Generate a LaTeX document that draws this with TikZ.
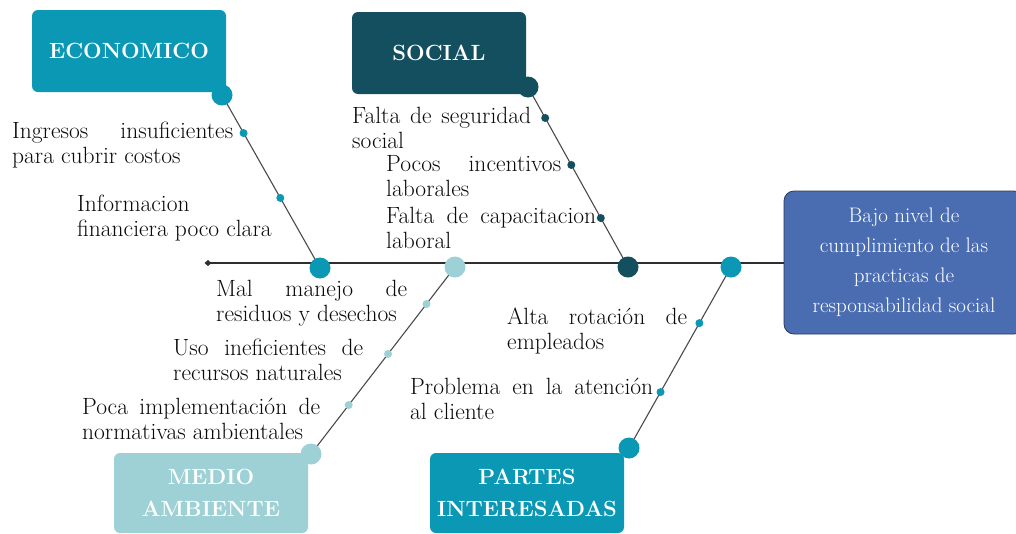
\documentclass[tikz,border=0pt]{standalone}
\usetikzlibrary{calc}
\definecolor{ecoC}{HTML}{0B98B5}
\definecolor{socC}{HTML}{134F5E}
\definecolor{medC}{HTML}{9DD1D5}
\definecolor{resC}{HTML}{4A6CB1}
\definecolor{resB}{HTML}{2B3A5C}
\definecolor{txtC}{HTML}{0A0A0A}
\definecolor{boneC}{HTML}{4A4A4A}
\definecolor{spineC}{HTML}{2E2E2E}
\begin{document}
\begin{tikzpicture}[x=1pt,y=-1pt,
  catbox/.style={fill=#1, rounded corners=6pt, text=white, inner sep=0pt,
    font=\fontsize{22}{32}\selectfont\bfseries, align=center},
  bigdot/.style={circle, fill=#1, minimum size=21pt, inner sep=0pt},
  smalldot/.style={circle, fill=#1, minimum size=8pt, inner sep=0pt},
  lbl/.style={text=txtC, font=\fontsize{23.5}{25}\selectfont, align=left, inner sep=0pt, anchor=west},
  bone/.style={draw=boneC, line width=1.1pt},
  spine/.style={draw=spineC, line width=2.2pt}]
\useasboundingbox (0,0) rectangle (1016,533);

% result box
\node[fill=resC, draw=resB, line width=0.8pt, rounded corners=10pt, minimum width=240pt, minimum height=143pt,
  text=white, font=\fontsize{21}{30}\selectfont, align=center, inner sep=0pt] (res) at (904,262.5)
  {Bajo nivel de\\cumplimiento de las\\practicas de\\responsabilidad social};

% spine
\coordinate (tail) at (208,263);
\draw[spine] (tail) -- (res.west |- tail);
\fill[spineC] (tail) ++(-3.5,0) -- ++(3.5,-3) -- ++(3.5,3) -- ++(-3.5,3) -- cycle;

% spine circles (positions)
\coordinate (s1c) at (320,268);
\coordinate (s2c) at (455,267);
\coordinate (s3c) at (628,267);
\coordinate (s4c) at (731,267);
% category corner circles
\coordinate (ecc) at (222,95);
\coordinate (scc) at (528,87);
\coordinate (mcc) at (311,454);
\coordinate (pcc) at (629,448);

% bones
\draw[bone] (ecc) -- (s1c);
\draw[bone] (scc) -- (s3c);
\draw[bone] (mcc) -- (s2c);
\draw[bone] (pcc) -- (s4c);

% category boxes
\node[catbox=ecoC, minimum width=194pt, minimum height=82pt] (eco) at (129,51) {ECONOMICO};
\node[catbox=socC, minimum width=174pt, minimum height=82pt] (soc) at (439,53) {SOCIAL};
\node[catbox=medC, minimum width=194pt, minimum height=80pt] (med) at (211,493) {MEDIO\\AMBIENTE};
\node[catbox=ecoC, minimum width=194pt, minimum height=80pt] (par) at (527,493) {PARTES\\INTERESADAS};

% big dots
\node[bigdot=ecoC] (ed) at (ecc) {};
\node[bigdot=socC] (sd) at (scc) {};
\node[bigdot=medC] (md) at (mcc) {};
\node[bigdot=ecoC] (pd) at (pcc) {};
\node[bigdot=ecoC] (s1) at (s1c) {};
\node[bigdot=medC] (s2) at (s2c) {};
\node[bigdot=socC] (s3) at (s3c) {};
\node[bigdot=ecoC] (s4) at (s4c) {};

% small dots
\node[smalldot=ecoC] (e1) at ($(ecc)!0.22!(s1c)$) {};
\node[smalldot=ecoC] (e2) at ($(ecc)!0.595!(s1c)$) {};
\node[smalldot=socC] (o1) at ($(scc)!0.172!(s3c)$) {};
\node[smalldot=socC] (o2) at ($(scc)!0.433!(s3c)$) {};
\node[smalldot=socC] (o3) at ($(scc)!0.728!(s3c)$) {};
\node[smalldot=medC] (m1) at ($(mcc)!0.262!(s2c)$) {};
\node[smalldot=medC] (m2) at ($(mcc)!0.535!(s2c)$) {};
\node[smalldot=medC] (m3) at ($(mcc)!0.802!(s2c)$) {};
\node[smalldot=ecoC] (p1) at ($(pcc)!0.309!(s4c)$) {};
\node[smalldot=ecoC] (p2) at ($(pcc)!0.69!(s4c)$) {};

% labels
\node[lbl] (le1) at (12,145) {\makebox[221pt][s]{Ingresos insuficientes}\\para cubrir costos};
\node[lbl] (le2) at (77,218) {Informacion\\financiera poco clara};
\node[lbl] (lo1) at (352,128) {\makebox[179pt][s]{Falta de seguridad}\\social};
\node[lbl] (lo2) at (386,176) {\makebox[175pt][s]{Pocos incentivos}\\laborales};
\node[lbl] (lo3) at (386,228) {\makebox[210pt][s]{Falta de capacitacion}\\laboral};
\node[lbl] (lm3) at (216,303) {\makebox[191pt][s]{Mal manejo de}\\residuos y desechos};
\node[lbl] (lm2) at (173,360) {\makebox[190pt][s]{Uso ineficientes de}\\recursos naturales};
\node[lbl] (lm1) at (82,419) {\makebox[238pt][s]{Poca implementación de}\\normativas ambientales};
\node[lbl] (lp2) at (507,331) {\makebox[180pt][s]{Alta rotación de}\\empleados};
\node[lbl] (lp1) at (410,399) {\makebox[243pt][s]{Problema en la atención}\\al cliente};
\end{tikzpicture}
\end{document}
